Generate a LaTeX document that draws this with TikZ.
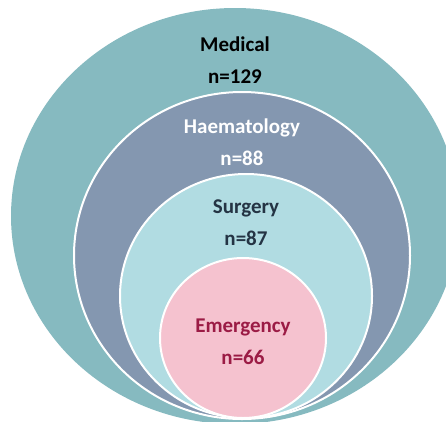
\documentclass[tikz,border=0pt]{standalone}
\usepackage{fontspec}
\setmainfont{Carlito}
\usetikzlibrary{positioning}
\definecolor{medcol}{HTML}{86BAC0}
\definecolor{haemcol}{HTML}{8497B0}
\definecolor{surgcol}{HTML}{B1DCE2}
\definecolor{emcol}{HTML}{F5C2CF}
\definecolor{emtext}{HTML}{9B1B45}
\definecolor{surgtext}{HTML}{243444}

\begin{document}
\begin{tikzpicture}
			[x=1pt,y=-1pt,
			 ring/.style={draw=white,line width=2pt},
			 label/.style={font=\fontsize{21}{32}\selectfont\bfseries,align=center,inner sep=0pt}]
			\useasboundingbox (0,0) rectangle (446,421);
			\clip (0,0) rectangle (446,421);
			\fill [medcol] (235,216) ellipse [x radius=224,y radius=208];
			\filldraw [ring,fill=haemcol] (242,255.5) ellipse [x radius=168,y radius=163.5];
			\filldraw [ring,fill=surgcol] (246,296) ellipse [x radius=126,y radius=122];
			\filldraw [ring,fill=emcol] (243,338) ellipse [x radius=83,y radius=80];
			\node (med) [label] at (235,60) {Medical\\n=129};
			\node (haem) [label,text=white] at (242,142) {Haematology\\n=88};
			\node (surg) [label,text=surgtext] at (246,223) {Surgery\\n=87};
			\node (em) [label,text=emtext] at (243,342) {Emergency\\n=66};
	  \end{tikzpicture}
\end{document}
